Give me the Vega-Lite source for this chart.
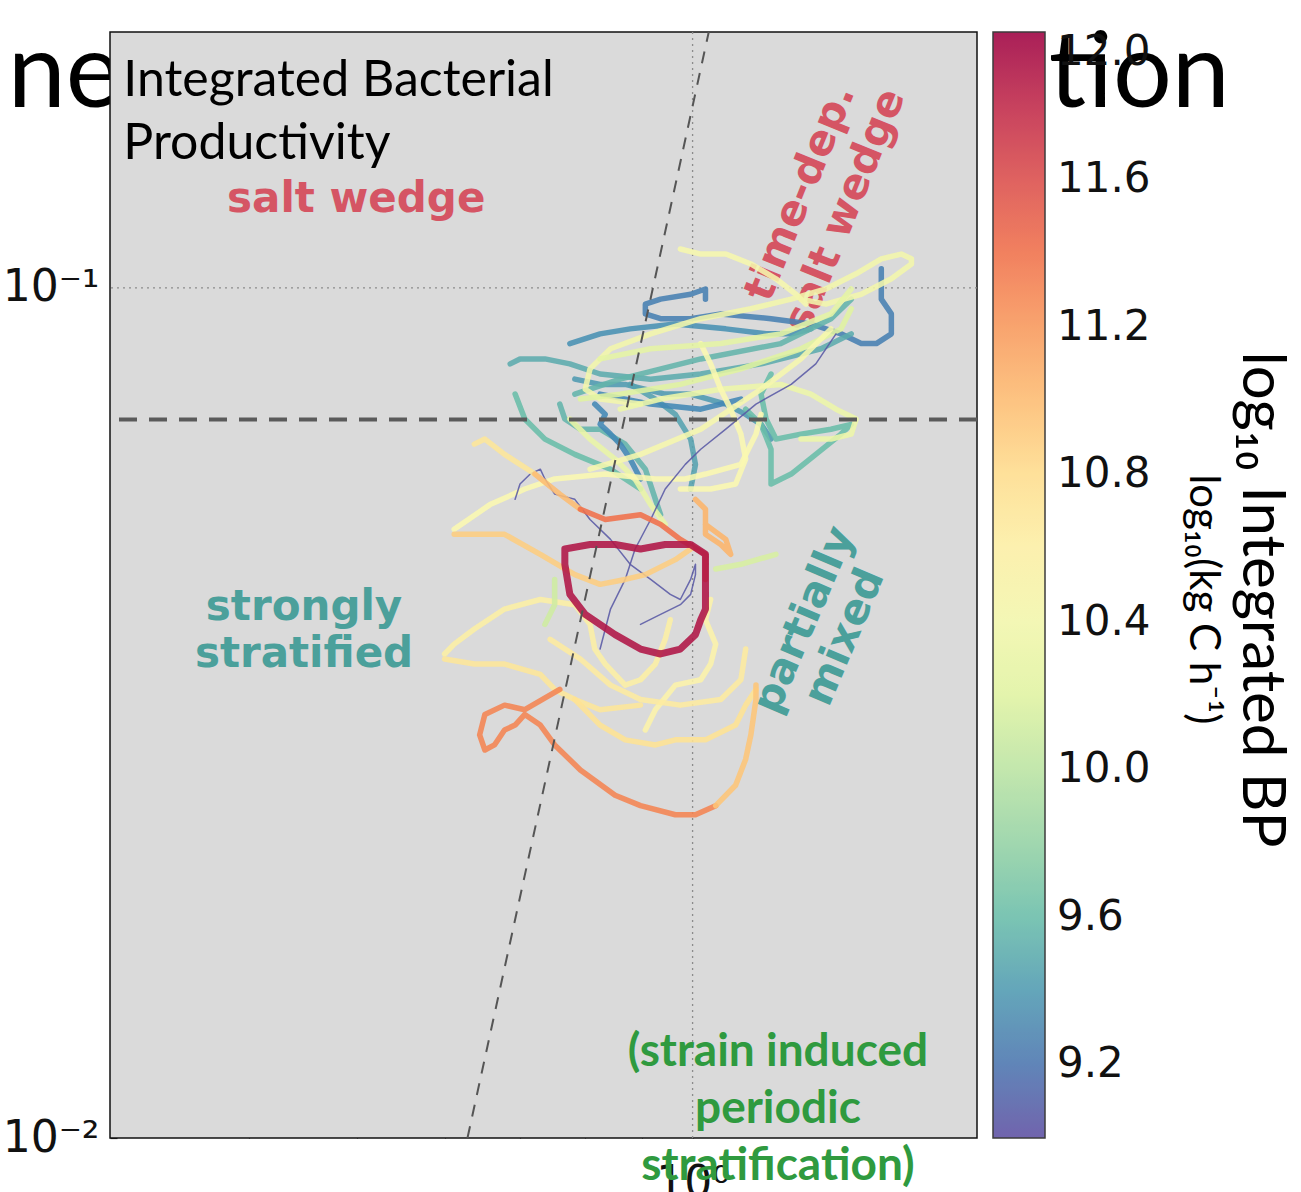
{
"$schema": "https://vega.github.io/schema/vega-lite/v6.json",
"width": 867, "height": 1106,
"autosize": {"type": "none"},
"padding": {"left": 110, "top": 32, "right": 324, "bottom": 54},
"background": "white",
"view": {"stroke": null, "fill": null},
"config": {"font": "DejaVu Sans"},
"datasets": {
"series": [
{"id":1,"bp":9.25},{"id":2,"bp":9.5},{"id":3,"bp":9.35},{"id":4,"bp":9.4},{"id":5,"bp":9.6},{"id":6,"bp":9.45},{"id":7,"bp":9.55},{"id":8,"bp":9.3},{"id":32,"bp":9.55},{"id":36,"bp":9.6},{"id":37,"bp":9.3},
{"id":9,"bp":10.45},{"id":10,"bp":10.4},{"id":11,"bp":10.2},{"id":12,"bp":10.35},{"id":13,"bp":10.5},{"id":14,"bp":10.3},{"id":35,"bp":10.25},{"id":33,"bp":10.45},{"id":15,"bp":10.5},{"id":16,"bp":10.6},{"id":17,"bp":10.7},{"id":18,"bp":10.75},{"id":19,"bp":10.55},{"id":34,"bp":10.65},{"id":20,"bp":10.15},{"id":21,"bp":10.1},
{"id":22,"bp":9.05},{"id":23,"bp":9.05},
{"id":24,"bp":10.7},{"id":25,"bp":11.0},{"id":26,"bp":11.4},{"id":27,"bp":11.05},{"id":28,"bp":10.9},{"id":29,"bp":11.3},{"id":30,"bp":10.95},{"id":31,"bp":11.9}
],
"pts": [
{"id":1,"x":1.027,"y":0.0970},{"id":1,"x":1.027,"y":0.0997},{"id":1,"x":0.996,"y":0.0983},{"id":1,"x":0.936,"y":0.0970},{"id":1,"x":0.907,"y":0.0957},{"id":1,"x":0.907,"y":0.0932},{"id":1,"x":0.936,"y":0.0920},{"id":1,"x":0.996,"y":0.0920},{"id":1,"x":1.060,"y":0.0932},{"id":1,"x":1.176,"y":0.0920},{"id":1,"x":1.277,"y":0.0907},{"id":1,"x":1.359,"y":0.0883},{"id":1,"x":1.417,"y":0.0860},{"id":1,"x":1.462,"y":0.0860},{"id":1,"x":1.508,"y":0.0883},{"id":1,"x":1.508,"y":0.0932},{"id":1,"x":1.477,"y":0.0970},{"id":1,"x":1.477,"y":0.1053},
{"id":2,"x":0.686,"y":0.0814},{"id":2,"x":0.700,"y":0.0825},{"id":2,"x":0.737,"y":0.0825},{"id":2,"x":0.776,"y":0.0814},{"id":2,"x":0.826,"y":0.0792},{"id":2,"x":0.917,"y":0.0781},{"id":2,"x":1.017,"y":0.0792},{"id":2,"x":1.152,"y":0.0814},{"id":2,"x":1.304,"y":0.0848},{"id":2,"x":1.388,"y":0.0883},
{"id":3,"x":0.776,"y":0.0860},{"id":3,"x":0.826,"y":0.0883},{"id":3,"x":0.879,"y":0.0895},{"id":3,"x":0.965,"y":0.0907},{"id":3,"x":1.071,"y":0.0895},{"id":3,"x":1.164,"y":0.0883},{"id":3,"x":1.226,"y":0.0883},{"id":3,"x":1.277,"y":0.0895},
{"id":4,"x":0.784,"y":0.0781},{"id":4,"x":0.826,"y":0.0770},{"id":4,"x":0.870,"y":0.0770},{"id":4,"x":0.945,"y":0.0750},{"id":4,"x":0.996,"y":0.0750},{"id":4,"x":1.071,"y":0.0730},{"id":4,"x":1.116,"y":0.0710},{"id":4,"x":1.152,"y":0.0691},{"id":4,"x":1.176,"y":0.0664},
{"id":5,"x":1.116,"y":0.0720},{"id":5,"x":1.152,"y":0.0691},{"id":5,"x":1.176,"y":0.0646},{"id":5,"x":1.176,"y":0.0588},{"id":5,"x":1.226,"y":0.0604},{"id":5,"x":1.290,"y":0.0637},{"id":5,"x":1.359,"y":0.0673},{"id":5,"x":1.388,"y":0.0691},{"id":5,"x":1.331,"y":0.0682},{"id":5,"x":1.251,"y":0.0673},{"id":5,"x":1.188,"y":0.0664},{"id":5,"x":1.164,"y":0.0701},{"id":5,"x":1.152,"y":0.0750},{"id":5,"x":1.176,"y":0.0792},
{"id":6,"x":0.879,"y":0.0770},{"id":6,"x":0.926,"y":0.0740},{"id":6,"x":0.965,"y":0.0710},{"id":6,"x":0.996,"y":0.0664},{"id":6,"x":1.006,"y":0.0620},{"id":6,"x":0.996,"y":0.0580},
{"id":7,"x":0.760,"y":0.0730},{"id":7,"x":0.768,"y":0.0701},{"id":7,"x":0.793,"y":0.0682},{"id":7,"x":0.826,"y":0.0682},{"id":7,"x":0.870,"y":0.0655},{"id":7,"x":0.907,"y":0.0612},{"id":7,"x":0.926,"y":0.0564},{"id":7,"x":0.936,"y":0.0541},
{"id":8,"x":0.817,"y":0.0730},{"id":8,"x":0.835,"y":0.0710},{"id":8,"x":0.826,"y":0.0691},{"id":8,"x":0.844,"y":0.0673},{"id":8,"x":0.861,"y":0.0655},{"id":8,"x":0.879,"y":0.0629},{"id":8,"x":0.898,"y":0.0596},
{"id":32,"x":0.784,"y":0.0750},{"id":32,"x":0.861,"y":0.0781},{"id":32,"x":1.017,"y":0.0825},{"id":32,"x":1.200,"y":0.0860},{"id":32,"x":1.331,"y":0.0920},{"id":32,"x":1.388,"y":0.0970},
{"id":36,"x":0.693,"y":0.0750},{"id":36,"x":0.707,"y":0.0701},{"id":36,"x":0.737,"y":0.0664},{"id":36,"x":0.784,"y":0.0637},{"id":36,"x":0.844,"y":0.0612},{"id":36,"x":0.898,"y":0.0580},
{"id":37,"x":0.826,"y":0.0750},{"id":37,"x":0.917,"y":0.0730},{"id":37,"x":1.017,"y":0.0720},{"id":37,"x":1.105,"y":0.0740},
{"id":9,"x":0.975,"y":0.1111},{"id":9,"x":1.017,"y":0.1096},{"id":9,"x":1.071,"y":0.1096},{"id":9,"x":1.128,"y":0.1067},{"id":9,"x":1.188,"y":0.1025},{"id":9,"x":1.238,"y":0.0983},{"id":9,"x":1.264,"y":0.0957},
{"id":10,"x":1.251,"y":0.0970},{"id":10,"x":1.317,"y":0.0957},{"id":10,"x":1.417,"y":0.0983},{"id":10,"x":1.508,"y":0.1025},{"id":10,"x":1.572,"y":0.1067},{"id":10,"x":1.572,"y":0.1082},{"id":10,"x":1.539,"y":0.1096},{"id":10,"x":1.477,"y":0.1082},{"id":10,"x":1.402,"y":0.1039},{"id":10,"x":1.317,"y":0.0997},{"id":10,"x":1.226,"y":0.0970},{"id":10,"x":1.128,"y":0.0945},{"id":10,"x":1.017,"y":0.0920},{"id":10,"x":0.917,"y":0.0883},{"id":10,"x":0.844,"y":0.0848},{"id":10,"x":0.809,"y":0.0803},{"id":10,"x":0.801,"y":0.0760},{"id":10,"x":0.826,"y":0.0740},{"id":10,"x":0.898,"y":0.0730},
{"id":11,"x":0.793,"y":0.0740},{"id":11,"x":0.861,"y":0.0750},{"id":11,"x":0.975,"y":0.0770},{"id":11,"x":1.105,"y":0.0803},{"id":11,"x":1.251,"y":0.0848},{"id":11,"x":1.359,"y":0.0895},{"id":11,"x":1.388,"y":0.0945},
{"id":12,"x":0.861,"y":0.0720},{"id":12,"x":0.936,"y":0.0740},{"id":12,"x":1.060,"y":0.0760},{"id":12,"x":1.200,"y":0.0770},{"id":12,"x":1.277,"y":0.0750},{"id":12,"x":1.345,"y":0.0720},{"id":12,"x":1.402,"y":0.0701},{"id":12,"x":1.388,"y":0.0673},{"id":12,"x":1.331,"y":0.0664},{"id":12,"x":1.251,"y":0.0664},
{"id":13,"x":1.017,"y":0.0860},{"id":13,"x":1.038,"y":0.0814},{"id":13,"x":1.060,"y":0.0760},{"id":13,"x":1.082,"y":0.0720},{"id":13,"x":1.105,"y":0.0673},{"id":13,"x":1.116,"y":0.0629},{"id":13,"x":1.093,"y":0.0588},{"id":13,"x":1.038,"y":0.0580},{"id":13,"x":0.975,"y":0.0580},
{"id":14,"x":0.776,"y":0.0701},{"id":14,"x":0.809,"y":0.0664},{"id":14,"x":0.852,"y":0.0629},{"id":14,"x":0.888,"y":0.0596},{"id":14,"x":0.917,"y":0.0556},{"id":14,"x":0.945,"y":0.0527},
{"id":35,"x":0.826,"y":0.0825},{"id":35,"x":0.917,"y":0.0848},{"id":35,"x":1.060,"y":0.0860},{"id":35,"x":1.200,"y":0.0883},{"id":35,"x":1.331,"y":0.0932},{"id":35,"x":1.388,"y":0.0997},
{"id":33,"x":0.809,"y":0.0612},{"id":33,"x":0.898,"y":0.0637},{"id":33,"x":1.017,"y":0.0682},{"id":33,"x":1.152,"y":0.0760},{"id":33,"x":1.251,"y":0.0825},{"id":33,"x":1.331,"y":0.0895},
{"id":15,"x":0.611,"y":0.0520},{"id":15,"x":0.658,"y":0.0556},{"id":15,"x":0.707,"y":0.0580},{"id":15,"x":0.752,"y":0.0596},{"id":15,"x":0.835,"y":0.0604},{"id":15,"x":0.926,"y":0.0596},{"id":15,"x":0.985,"y":0.0596},{"id":15,"x":1.027,"y":0.0604},{"id":15,"x":1.105,"y":0.0620},{"id":15,"x":1.140,"y":0.0673},{"id":15,"x":1.152,"y":0.0710},
{"id":16,"x":0.599,"y":0.0371},{"id":16,"x":0.611,"y":0.0381},{"id":16,"x":0.637,"y":0.0397},{"id":16,"x":0.678,"y":0.0419},{"id":16,"x":0.730,"y":0.0430},{"id":16,"x":0.784,"y":0.0424},{"id":16,"x":0.809,"y":0.0402},{"id":16,"x":0.817,"y":0.0376},{"id":16,"x":0.835,"y":0.0361},{"id":16,"x":0.870,"y":0.0341},{"id":16,"x":0.898,"y":0.0346},{"id":16,"x":0.926,"y":0.0361},{"id":16,"x":0.945,"y":0.0386},{"id":16,"x":0.955,"y":0.0407},
{"id":17,"x":0.599,"y":0.0366},{"id":17,"x":0.637,"y":0.0361},{"id":17,"x":0.678,"y":0.0361},{"id":17,"x":0.730,"y":0.0351},{"id":17,"x":0.752,"y":0.0337},{"id":17,"x":0.784,"y":0.0328},{"id":17,"x":0.826,"y":0.0319},{"id":17,"x":0.898,"y":0.0323},
{"id":18,"x":0.784,"y":0.0328},{"id":18,"x":0.826,"y":0.0306},{"id":18,"x":0.870,"y":0.0294},{"id":18,"x":0.926,"y":0.0290},{"id":18,"x":0.965,"y":0.0294},{"id":18,"x":1.027,"y":0.0294},{"id":18,"x":1.093,"y":0.0306},{"id":18,"x":1.116,"y":0.0323},{"id":18,"x":1.140,"y":0.0337},
{"id":19,"x":0.907,"y":0.0302},{"id":19,"x":0.926,"y":0.0319},{"id":19,"x":0.965,"y":0.0341},{"id":19,"x":1.017,"y":0.0346},{"id":19,"x":1.038,"y":0.0361},{"id":19,"x":1.049,"y":0.0381},{"id":19,"x":1.027,"y":0.0407},{"id":19,"x":1.038,"y":0.0430},
{"id":34,"x":0.745,"y":0.0386},{"id":34,"x":0.793,"y":0.0366},{"id":34,"x":0.844,"y":0.0341},{"id":34,"x":0.898,"y":0.0328},{"id":34,"x":0.975,"y":0.0323},{"id":34,"x":1.060,"y":0.0328},{"id":34,"x":1.105,"y":0.0346},{"id":34,"x":1.116,"y":0.0376},
{"id":20,"x":1.049,"y":0.0467},{"id":20,"x":1.105,"y":0.0473},{"id":20,"x":1.188,"y":0.0486},
{"id":21,"x":0.752,"y":0.0454},{"id":21,"x":0.752,"y":0.0424},{"id":21,"x":0.737,"y":0.0402},
{"id":22,"x":0.826,"y":0.0376},{"id":22,"x":0.844,"y":0.0419},{"id":22,"x":0.870,"y":0.0454},{"id":22,"x":0.888,"y":0.0493},{"id":22,"x":0.917,"y":0.0534},{"id":22,"x":0.945,"y":0.0580},{"id":22,"x":0.985,"y":0.0620},{"id":22,"x":1.017,"y":0.0646},{"id":22,"x":1.071,"y":0.0682},{"id":22,"x":1.140,"y":0.0730},{"id":22,"x":1.226,"y":0.0770},{"id":22,"x":1.290,"y":0.0814},{"id":22,"x":1.345,"y":0.0883},
{"id":23,"x":0.693,"y":0.0564},{"id":23,"x":0.700,"y":0.0588},{"id":23,"x":0.715,"y":0.0604},{"id":23,"x":0.730,"y":0.0612},{"id":23,"x":0.737,"y":0.0596},{"id":23,"x":0.752,"y":0.0572},{"id":23,"x":0.784,"y":0.0564},{"id":23,"x":0.809,"y":0.0534},{"id":23,"x":0.844,"y":0.0506},{"id":23,"x":0.879,"y":0.0473},{"id":23,"x":0.917,"y":0.0454},{"id":23,"x":0.955,"y":0.0436},{"id":23,"x":0.975,"y":0.0430},{"id":23,"x":0.996,"y":0.0454},{"id":23,"x":1.006,"y":0.0473},{"id":23,"x":1.006,"y":0.0460},{"id":23,"x":0.996,"y":0.0436},{"id":23,"x":0.975,"y":0.0424},{"id":23,"x":0.936,"y":0.0413},{"id":23,"x":0.898,"y":0.0402},
{"id":24,"x":0.637,"y":0.0655},{"id":24,"x":0.651,"y":0.0664},{"id":24,"x":0.678,"y":0.0637},{"id":24,"x":0.722,"y":0.0604},
{"id":25,"x":0.722,"y":0.0604},{"id":25,"x":0.760,"y":0.0572},{"id":25,"x":0.793,"y":0.0549},
{"id":26,"x":0.793,"y":0.0549},{"id":26,"x":0.835,"y":0.0534},{"id":26,"x":0.898,"y":0.0541},{"id":26,"x":0.936,"y":0.0527},{"id":26,"x":0.975,"y":0.0506},{"id":26,"x":1.027,"y":0.0486},{"id":26,"x":1.027,"y":0.0454},
{"id":27,"x":1.006,"y":0.0564},{"id":27,"x":1.027,"y":0.0549},{"id":27,"x":1.027,"y":0.0513},{"id":27,"x":1.060,"y":0.0499},{"id":27,"x":1.082,"y":0.0486},{"id":27,"x":1.071,"y":0.0506},{"id":27,"x":1.027,"y":0.0527},
{"id":28,"x":0.611,"y":0.0513},{"id":28,"x":0.637,"y":0.0513},{"id":28,"x":0.678,"y":0.0513},{"id":28,"x":0.730,"y":0.0486},{"id":28,"x":0.784,"y":0.0460},{"id":28,"x":0.826,"y":0.0448},{"id":28,"x":0.870,"y":0.0454},{"id":28,"x":0.907,"y":0.0460},{"id":28,"x":0.965,"y":0.0479},{"id":28,"x":0.996,"y":0.0493},
{"id":29,"x":0.760,"y":0.0337},{"id":29,"x":0.707,"y":0.0319},{"id":29,"x":0.678,"y":0.0323},{"id":29,"x":0.651,"y":0.0315},{"id":29,"x":0.644,"y":0.0298},{"id":29,"x":0.651,"y":0.0286},{"id":29,"x":0.664,"y":0.0290},{"id":29,"x":0.678,"y":0.0302},{"id":29,"x":0.693,"y":0.0306},{"id":29,"x":0.707,"y":0.0315},{"id":29,"x":0.730,"y":0.0306},{"id":29,"x":0.752,"y":0.0290},{"id":29,"x":0.793,"y":0.0271},{"id":29,"x":0.852,"y":0.0253},{"id":29,"x":0.898,"y":0.0246},{"id":29,"x":0.965,"y":0.0240},{"id":29,"x":1.006,"y":0.0240},{"id":29,"x":1.049,"y":0.0246},
{"id":30,"x":1.049,"y":0.0246},{"id":30,"x":1.093,"y":0.0260},{"id":30,"x":1.116,"y":0.0279},{"id":30,"x":1.128,"y":0.0298},{"id":30,"x":1.140,"y":0.0328},{"id":30,"x":1.140,"y":0.0341},
{"id":31,"x":0.768,"y":0.0493},{"id":31,"x":0.809,"y":0.0499},{"id":31,"x":0.852,"y":0.0499},{"id":31,"x":0.898,"y":0.0493},{"id":31,"x":0.945,"y":0.0499},{"id":31,"x":0.996,"y":0.0499},{"id":31,"x":1.027,"y":0.0486},{"id":31,"x":1.027,"y":0.0448},{"id":31,"x":1.027,"y":0.0419},{"id":31,"x":1.017,"y":0.0407},{"id":31,"x":1.006,"y":0.0391},{"id":31,"x":0.975,"y":0.0376},{"id":31,"x":0.936,"y":0.0371},{"id":31,"x":0.898,"y":0.0376},{"id":31,"x":0.852,"y":0.0391},{"id":31,"x":0.801,"y":0.0413},{"id":31,"x":0.776,"y":0.0436},{"id":31,"x":0.768,"y":0.0473},{"id":31,"x":0.768,"y":0.0493}
]
},
"layer": [
{"data": {"values": [{}]},
 "mark": {"type": "text", "text": "ne", "font": "Lato", "fontSize": 104, "align": "left", "baseline": "alphabetic", "color": "#000"},
 "encoding": {"x": {"datum": 0.2429, "type": "quantitative"}, "y": {"datum": 0.1633, "type": "quantitative"}}},
{"data": {"values": [{}]},
 "mark": {"type": "rect", "fill": "#dadada", "stroke": "#111", "strokeWidth": 1.5},
 "encoding": {"x": {"datum": 0.3, "type": "quantitative"}, "x2": {"datum": 1.8}, "y": {"datum": 0.01, "type": "quantitative"}, "y2": {"datum": 0.2}}},
{"data": {"values": [{}]},
 "mark": {"type": "rule", "stroke": "#8c8c8c", "strokeDash": [2, 4], "strokeWidth": 1.3},
 "encoding": {"x": {"datum": 1, "type": "quantitative"}}},
{"data": {"values": [{}]},
 "mark": {"type": "rule", "stroke": "#8c8c8c", "strokeDash": [2, 4], "strokeWidth": 1.3},
 "encoding": {"y": {"datum": 0.1, "type": "quantitative"}}},
{"data": {"values": [{}]},
 "mark": {"type": "text", "text": "salt wedge", "font": "DejaVu Sans", "fontWeight": "bold", "fontSize": 42, "align": "center", "baseline": "middle", "color": "#d55564"},
 "encoding": {"x": {"datum": 0.499, "type": "quantitative"}, "y": {"datum": 0.1273, "type": "quantitative"}}},
{"data": {"values": [{}]},
 "mark": {"type": "text", "text": ["strongly", "stratified"], "lineHeight": 47, "font": "DejaVu Sans", "fontWeight": "bold", "fontSize": 42, "align": "center", "baseline": "middle", "color": "#4ba09b"},
 "encoding": {"x": {"datum": 0.448, "type": "quantitative"}, "y": {"datum": 0.04209, "type": "quantitative"}}},
{"data": {"values": [{}]},
 "mark": {"type": "text", "text": ["time-dep.", "salt wedge"], "lineHeight": 48, "angle": -68, "font": "DejaVu Sans", "fontWeight": "bold", "fontSize": 42, "align": "center", "baseline": "middle", "color": "#d55564"},
 "encoding": {"x": {"datum": 1.249, "type": "quantitative"}, "y": {"datum": 0.1294, "type": "quantitative"}}},
{"data": {"values": [{}]},
 "mark": {"type": "text", "text": ["partially", "mixed"], "lineHeight": 44, "angle": -67, "font": "DejaVu Sans", "fontWeight": "bold", "fontSize": 42, "align": "center", "baseline": "middle", "color": "#4ba09b"},
 "encoding": {"x": {"datum": 1.259, "type": "quantitative"}, "y": {"datum": 0.0407, "type": "quantitative"}}},
{"data": {"name": "pts"},
 "transform": [{"lookup": "id", "from": {"data": {"name": "series"}, "key": "id", "fields": ["bp"]}}],
 "mark": {"type": "line", "strokeCap": "round", "strokeJoin": "round", "opacity": 0.88},
 "encoding": {
  "x": {"field": "x", "type": "quantitative", "scale": {"type": "log", "domain": [0.3, 1.8], "nice": false},
        "axis": {"values": [0.4, 0.5, 0.6, 0.7, 0.8, 0.9, 1], "labelExpr": "datum.value == 1 ? '10⁰' : ''", "grid": false, "domain": false, "tickSize": -7, "tickColor": "#222", "tickWidth": 1.2, "labelFont": "DejaVu Sans", "labelFontSize": 44, "labelColor": "#111", "labelPadding": 30, "labelOverlap": false, "labelFlush": false, "title": null}},
  "y": {"field": "y", "type": "quantitative", "scale": {"type": "log", "domain": [0.01, 0.2], "nice": false},
        "axis": {"values": [0.01, 0.02, 0.03, 0.04, 0.05, 0.06, 0.07, 0.08, 0.09, 0.1], "labelExpr": "datum.value == 0.1 ? '10⁻¹' : datum.value == 0.01 ? '10⁻²' : ''", "grid": false, "domain": false, "tickSize": -7, "tickColor": "#222", "tickWidth": 1.2, "labelFont": "DejaVu Sans", "labelFontSize": 44, "labelColor": "#111", "labelPadding": 18, "labelOverlap": false, "labelFlush": false, "title": null}},
  "detail": {"field": "id", "type": "nominal"},
  "color": {"field": "bp", "type": "quantitative", "scale": {"scheme": "spectral", "reverse": true, "domain": [9, 12]},
        "legend": {"orient": "none", "legendX": 883, "legendY": 0, "direction": "vertical", "gradientLength": 1106, "gradientThickness": 52, "title": null, "values": [9.2, 9.6, 10, 10.4, 10.8, 11.2, 11.6, 12], "format": ".1f", "labelFont": "DejaVu Sans", "labelFontSize": 42, "labelColor": "#111", "labelOffset": 12, "labelBaseline": "middle", "gradientStrokeColor": "#222", "gradientStrokeWidth": 1.5, "padding": 0, "labelOverlap": false}},
  "strokeWidth": {"field": "bp", "type": "quantitative", "scale": {"type": "threshold", "domain": [9.2, 11.8], "range": [1.5, 5.5, 7]}, "legend": null},
  "order": {"value": null}
 }},
{"data": {"values": [{}]},
 "mark": {"type": "rule", "stroke": "#5a5a5a", "strokeDash": [18, 12], "strokeWidth": 4},
 "encoding": {"y": {"datum": 0.07, "type": "quantitative"}}},
{"data": {"values": [{}]},
 "mark": {"type": "rule", "stroke": "#555", "strokeDash": [12, 10], "strokeWidth": 2},
 "encoding": {"x": {"datum": 0.628, "type": "quantitative"}, "y": {"datum": 0.01, "type": "quantitative"}, "x2": {"datum": 1.034}, "y2": {"datum": 0.2}}},
{"data": {"values": [{}]},
 "mark": {"type": "text", "text": ["Integrated Bacterial", "Productivity"], "lineHeight": 63, "font": "Lato", "fontSize": 50, "align": "left", "baseline": "alphabetic", "color": "#000"},
 "encoding": {"x": {"datum": 0.3084, "type": "quantitative"}, "y": {"datum": 0.1683, "type": "quantitative"}}},
{"data": {"values": [{}]},
 "mark": {"type": "text", "text": ["(strain induced", "periodic", "stratification)"], "lineHeight": 57, "font": "Lato", "fontWeight": "bold", "fontSize": 46, "align": "center", "baseline": "middle", "color": "#2f9a3f"},
 "encoding": {"x": {"datum": 1.193, "type": "quantitative"}, "y": {"datum": 0.01263, "type": "quantitative"}}},
{"data": {"values": [{}]},
 "mark": {"type": "text", "text": "tion", "font": "Lato", "fontSize": 104, "align": "left", "baseline": "alphabetic", "color": "#000"},
 "encoding": {"x": {"datum": 2.088, "type": "quantitative"}, "y": {"datum": 0.1633, "type": "quantitative"}}},
{"data": {"values": [{}]},
 "mark": {"type": "text", "text": "log₁₀ Integrated BP", "angle": 90, "font": "Lato", "fontSize": 60, "align": "center", "baseline": "middle", "color": "#000"},
 "encoding": {"x": {"datum": 3.24, "type": "quantitative"}, "y": {"datum": 0.043, "type": "quantitative"}}},
{"data": {"values": [{}]},
 "mark": {"type": "text", "text": "log₁₀(kg C h⁻¹)", "angle": 90, "font": "Lato", "fontSize": 42, "align": "center", "baseline": "middle", "color": "#000"},
 "encoding": {"x": {"datum": 2.87, "type": "quantitative"}, "y": {"datum": 0.043, "type": "quantitative"}}}
]
}
